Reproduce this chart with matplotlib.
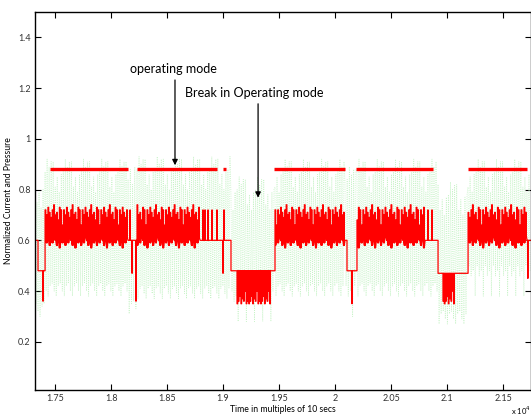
import numpy as np
import matplotlib
matplotlib.use('Agg')
import matplotlib.pyplot as plt

plt.rcParams['font.family'] = ['Lato', 'DejaVu Sans']

# Red signal: flat parts, oscillating parts and single spikes (time)
flat_start = [17321, 17348, 18152, 18795, 19071, 19429, 20089, 20107, 20804, 20920, 21071, 21714]
flat_end = [17348, 17411, 18232, 19071, 19125, 19464, 20107, 20196, 20920, 20964, 21188, 21750]
flat_level = [0.60, 0.48, 0.60, 0.60, 0.48, 0.48, 0.60, 0.48, 0.60, 0.47, 0.47, 0.60]

spike_x = [17393, 18170, 18188, 18223, 18821, 18839, 18866, 18902, 18946, 19000, 19009,
           20152, 20830, 20866, 21722]
spike_y = [0.36, 0.72, 0.47, 0.36, 0.72, 0.72, 0.72, 0.72, 0.72, 0.47, 0.72,
           0.35, 0.72, 0.72, 0.45]

osc_start = [17411, 18232, 19464, 20196, 21188]
osc_end = [18152, 18795, 20089, 20804, 21714]
osc_count = [58, 44, 50, 46, 40]
osc_tops = [0.72, 0.70, 0.73, 0.71, 0.69, 0.72, 0.74, 0.70, 0.71, 0.68, 0.73, 0.72, 0.66]
osc_bases = [0.60, 0.59, 0.61, 0.58, 0.60, 0.59, 0.62, 0.60, 0.58, 0.61, 0.57]

low_start = [19125, 20964]
low_end = [19429, 21071]
low_count = [26, 9]
low_base = [0.48, 0.47]
low_mins = [0.35, 0.36, 0.38, 0.35, 0.37, 0.36, 0.40, 0.35, 0.36]

# Green (pressure) signal: envelope per section
green_start = [17321, 17411, 18152, 18232, 19071, 19464, 20089, 20196, 20920, 21188]
green_end = [17411, 18152, 18232, 19071, 19464, 20089, 20196, 20920, 21188, 21750]
green_low = [0.30, 0.38, 0.31, 0.37, 0.28, 0.38, 0.30, 0.38, 0.27, 0.38]
green_high = [0.85, 0.91, 0.94, 0.92, 0.84, 0.91, 0.88, 0.91, 0.82, 0.91]
green_hi_var = [0.0, -0.04, -0.10, 0.01, -0.06, -0.02, -0.12, 0.0, -0.05]
green_lo_var = [0.0, 0.05, 0.12, 0.02, 0.08, 0.0, 0.10, 0.04]

# Operating mode marker bars
bar_start = [17455, 18232, 19000, 19455, 20188, 21188]
bar_end = [18152, 18946, 19027, 20089, 20875, 21714]
bar_level = 0.88

# ---- assemble the red series ----
pts = []
for s, e, lv in zip(flat_start, flat_end, flat_level):
    pts.append((s, lv))
    for sx, sy in zip(spike_x, spike_y):
        if s < sx < e:
            pts += [(sx - 3, lv), (sx, sy), (sx + 3, lv)]
    pts.append((e, lv))
k = 0
for s, e, n in zip(osc_start, osc_end, osc_count):
    xs = np.linspace(s, e, n + 1)
    for i in range(n):
        b = osc_bases[k % len(osc_bases)]
        t = osc_tops[k % len(osc_tops)]
        w = xs[i + 1] - xs[i]
        pts += [(xs[i], b), (xs[i] + 0.1, t), (xs[i] + 0.5 * w, t), (xs[i] + 0.5 * w + 0.1, b)]
        k += 1
    pts.append((e, 0.60))
k = 0
for s, e, n, lb in zip(low_start, low_end, low_count, low_base):
    xs = np.linspace(s, e, n + 1)
    for i in range(n):
        m = low_mins[k % len(low_mins)]
        w = xs[i + 1] - xs[i]
        pts += [(xs[i], lb), (xs[i] + 0.1, m), (xs[i] + 0.5 * w, m), (xs[i] + 0.5 * w + 0.1, lb)]
        k += 1
    pts.append((e, lb))
pts.sort(key=lambda p: p[0])
red_x = [p[0] for p in pts]
red_y = [p[1] for p in pts]

# ---- assemble the green series ----
gx, gy = [], []
k = 0
for s, e, lo, hi in zip(green_start, green_end, green_low, green_high):
    n = max(2, int((e - s) / 9))
    xs = np.linspace(s, e, n + 1)
    for i in range(n):
        if i % 2 == 0:
            gy.append(hi + green_hi_var[k % len(green_hi_var)])
        else:
            gy.append(lo + green_lo_var[k % len(green_lo_var)])
        gx.append(xs[i])
        k += 1

fig = plt.figure(figsize=(5.31, 4.2), dpi=100)
ax = fig.add_axes([35 / 531, 30 / 420, 496 / 531, 378 / 420])

ax.plot(gx, gy, color='#c8f3c8', linestyle=':', linewidth=0.6)
ax.plot(red_x, red_y, color='#ff0000', linewidth=0.9)
for s, e in zip(bar_start, bar_end):
    ax.plot([s, e], [bar_level, bar_level], color='#ff0000', linewidth=2.4, solid_capstyle='butt')

ax.set_xlim(17321, 21750)
ax.set_ylim(0.01, 1.5)
ax.set_xticks([17500, 18000, 18500, 19000, 19500, 20000, 20500, 21000, 21500])
ax.set_xticklabels(['1.75', '1.8', '1.85', '1.9', '1.95', '2', '2.05', '2.1', '2.15'])
ax.set_yticks([0.2, 0.4, 0.6, 0.8, 1.0, 1.2, 1.4])
ax.set_yticklabels(['0.2', '0.4', '0.6', '0.8', '1', '1.2', '1.4'])
ax.tick_params(direction='in', length=4, width=0.8, top=True, right=True,
               labelsize=6.5, labelcolor='#333333', pad=3)
for sp in ax.spines.values():
    sp.set_linewidth(1.0)

ax.set_xlabel('Time in multiples of 10 secs', fontsize=6.2, labelpad=1)
ax.set_ylabel('Normalized Current and Pressure', fontsize=6.2, labelpad=4)
fig.text(0.962, 0.012, r'x 10$^4$', fontsize=5.5)

ax.annotate('', xy=(18571, 0.885), xytext=(18571, 1.243),
            arrowprops=dict(arrowstyle='-|>', color='black', lw=0.9, mutation_scale=8))
ax.text(18560, 1.25, 'operating mode', fontsize=9, ha='center', va='bottom')
ax.annotate('', xy=(19313, 0.757), xytext=(19313, 1.149),
            arrowprops=dict(arrowstyle='-|>', color='black', lw=0.9, mutation_scale=8))
ax.text(19277, 1.158, 'Break in Operating mode', fontsize=9, ha='center', va='bottom')

fig.savefig('out.png', dpi=100)
